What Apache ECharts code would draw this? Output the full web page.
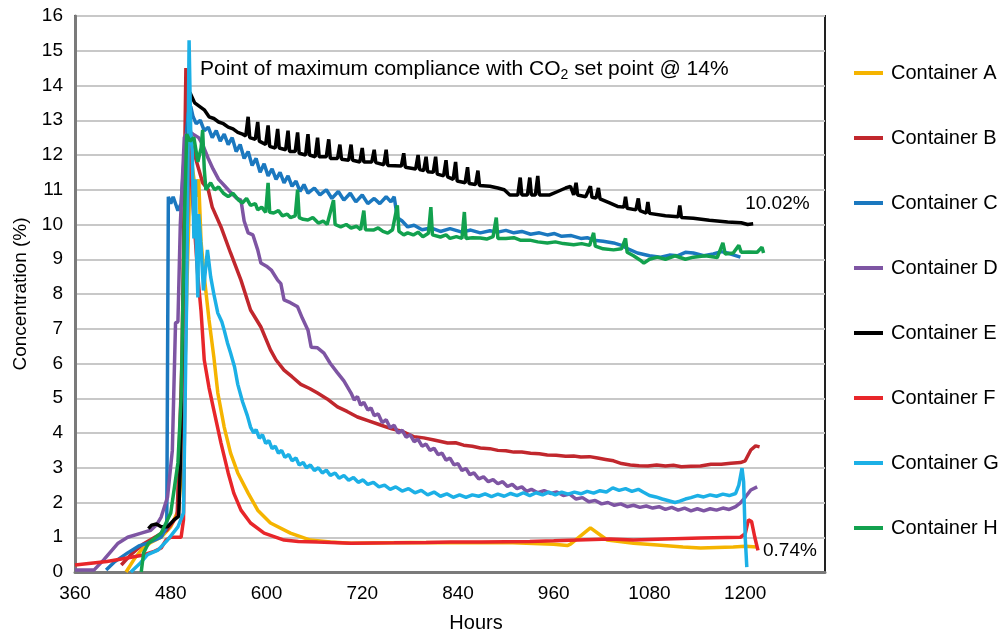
<!DOCTYPE html>
<html>
<head>
<meta charset="utf-8">
<script src="https://cdn.jsdelivr.net/npm/echarts@6.0.0/dist/echarts.min.js"></script>
<style>
  html, body { margin: 0; padding: 0; background: #fff; }
  #chart { width: 1005px; height: 634px; }
</style>
</head>
<body>
<div id="chart"></div>
<script>
// tick labels
var xTicks = [360, 480, 600, 720, 840, 960, 1080, 1200];
var yTicks = [0, 1, 2, 3, 4, 5, 6, 7, 8, 9, 10, 11, 12, 13, 14, 15, 16];
var names = ['Container A', 'Container B', 'Container C', 'Container D',
             'Container E', 'Container F', 'Container G', 'Container H'];
var colors = ['#F5B400', '#C1272D', '#1B78BF', '#7E55A3', '#000000', '#E8262A', '#1CB0E6', '#12A14E'];

// [hours, CO2 %]
var contA = [[424,0],[435,0.4],[443,0.63],[455,0.85],[468,1.0],[480,1.3],[490,1.8],[496,4],[500,8],[505,12.0],[508,11.5],[512,10.8],[515,11.3],[518,9.5],[522,8.5],[528,7.25],[534,6.19],[539,5.15],[547,4.17],[555,3.42],[564,2.85],[577,2.27],[589,1.78],[605,1.41],[630,1.12],[655,0.92],[680,0.86],[706,0.83],[780,0.85],[840,0.84],[900,0.85],[960,0.8],[977,0.76],[981,0.8],[1006,1.27],[1027,0.92],[1060,0.83],[1090,0.78],[1122,0.72],[1144,0.69],[1185,0.72],[1200,0.74],[1215,0.72]];

var contB = [[418,0.2],[430,0.5],[445,0.8],[460,1.0],[475,1.2],[488,1.6],[494,6],[499,14.5],[502,12.5],[506,12.3],[510,12.0],[515,11.6],[520,11.2],[527,11.0],[532,10.5],[543,9.93],[555,9.18],[568,8.4],[580,7.54],[593,7.05],[605,6.39],[612,6.1],[622,5.81],[632,5.62],[643,5.4],[654,5.28],[664,5.15],[676,4.98],[689,4.75],[701,4.62],[714,4.46],[728,4.35],[743,4.23],[757,4.12],[770,4.05],[785,3.89],[797,3.86],[810,3.8],[827,3.71],[837,3.72],[847,3.65],[858,3.62],[868,3.57],[880,3.55],[890,3.5],[900,3.49],[910,3.45],[920,3.45],[931,3.42],[942,3.40],[952,3.37],[963,3.36],[975,3.33],[985,3.34],[994,3.31],[1005,3.32],[1015,3.28],[1025,3.24],[1035,3.2],[1045,3.12],[1056,3.08],[1067,3.06],[1078,3.05],[1089,3.08],[1100,3.05],[1110,3.07],[1120,3.03],[1132,3.04],[1144,3.05],[1157,3.1],[1170,3.1],[1182,3.13],[1194,3.15],[1200,3.2],[1207,3.51],[1213,3.63],[1218,3.6]];

var contC = [[399,0.06],[410,0.3],[426,0.55],[440,0.75],[451,0.83],[468,1.0],[475,1.3],[477,10.8],[480,10.6],[483,10.8],[489,10.4],[493,10.6],[497,12],[502,13.2],[505,13.4],[508,13.1],[512,12.9],[517,13.0],[522,12.7],[527,12.8],[532,12.5],[537,12.7],[542,12.4],[547,12.6],[552,12.3],[557,12.5],[562,12.1],[567,12.3],[572,11.9],[577,12.1],[582,11.7],[587,11.9],[592,11.5],[597,11.75],[602,11.4],[607,11.6],[612,11.3],[617,11.5],[622,11.2],[627,11.4],[632,11.1],[637,11.25],[642,10.95],[647,11.15],[652,10.9],[660,11.05],[667,10.85],[675,11.0],[682,10.75],[690,10.95],[697,10.7],[705,10.9],[712,10.65],[720,10.85],[727,10.6],[735,10.75],[742,10.6],[750,10.8],[756,10.65],[760,10.8],[764,10.2],[770,10.1],[777,9.93],[785,9.98],[795,9.85],[806,9.9],[818,9.8],[830,9.88],[845,9.78],[856,9.84],[868,9.76],[880,9.82],[890,9.78],[900,9.83],[910,9.76],[920,9.8],[931,9.72],[942,9.76],[952,9.7],[961,9.74],[970,9.66],[982,9.68],[994,9.6],[1002,9.62],[1010,9.55],[1022,9.52],[1035,9.47],[1045,9.4],[1053,9.3],[1065,9.18],[1080,9.1],[1094,9.06],[1105,9.12],[1115,9.1],[1125,9.2],[1135,9.18],[1148,9.1],[1160,9.15],[1170,9.22],[1178,9.18],[1186,9.12],[1194,9.06]];

var contD = [[360,0.06],[384,0.06],[396,0.35],[414,0.83],[426,1.0],[443,1.12],[455,1.2],[462,1.35],[468,1.58],[476,2.16],[482,3.5],[486,7.17],[489,7.2],[492,10],[497,12.5],[502,12.7],[508,12.6],[515,12.5],[520,12.3],[527,11.9],[533,11.6],[540,11.3],[548,11.1],[556,10.9],[563,10.75],[568,10.7],[572,10.1],[577,9.76],[583,9.7],[589,9.27],[593,8.89],[600,8.8],[606,8.69],[614,8.4],[618,8.3],[622,7.83],[630,7.75],[639,7.63],[645,7.3],[652,6.96],[656,6.47],[664,6.45],[672,6.3],[680,6.0],[689,5.73],[697,5.5],[706,5.15],[710,4.95],[714,5.05],[718,4.8],[722,4.88],[727,4.66],[731,4.72],[735,4.5],[740,4.55],[745,4.3],[750,4.38],[755,4.15],[760,4.22],[765,4.0],[770,4.08],[775,3.88],[780,3.95],[785,3.75],[790,3.82],[795,3.62],[800,3.68],[805,3.5],[810,3.56],[815,3.38],[820,3.42],[825,3.22],[830,3.28],[835,3.08],[840,3.12],[845,2.92],[850,2.98],[855,2.8],[860,2.85],[866,2.68],[872,2.74],[878,2.6],[884,2.66],[890,2.54],[896,2.6],[902,2.46],[908,2.52],[914,2.4],[920,2.45],[926,2.32],[932,2.38],[940,2.28],[948,2.34],[956,2.26],[964,2.3],[972,2.2],[980,2.24],[988,2.1],[996,2.14],[1004,2.02],[1012,2.06],[1020,1.96],[1028,2.0],[1036,1.92],[1044,1.96],[1052,1.88],[1060,1.92],[1068,1.86],[1076,1.9],[1084,1.84],[1092,1.88],[1100,1.8],[1108,1.86],[1116,1.78],[1124,1.84],[1132,1.76],[1140,1.82],[1148,1.76],[1156,1.82],[1164,1.78],[1172,1.84],[1180,1.8],[1188,1.88],[1194,1.99],[1200,2.15],[1207,2.36],[1215,2.45]];

var contE = [[452,1.25],[456,1.35],[462,1.38],[468,1.3],[476,1.3],[484,1.5],[490,1.6],[494,4.5],[499,11],[504,13.8],[510,13.5],[516,13.4],[522,13.3],[528,13.1],[534,13.05],[540,12.95],[546,12.9],[552,12.8],[558,12.75],[564,12.65],[570,12.6],[574,12.55],[577,13.1],[579,12.5],[586,12.45],[589,12.95],[591,12.4],[599,12.3],[602,12.85],[604,12.25],[611,12.2],[614,12.75],[616,12.2],[624,12.15],[627,12.7],[629,12.1],[636,12.1],[639,12.65],[641,12.05],[649,12.0],[652,12.6],[654,12.0],[661,11.95],[664,12.5],[666,11.95],[675,11.95],[678,12.45],[680,11.9],[689,11.9],[692,12.3],[694,11.88],[703,11.85],[706,12.3],[708,11.85],[717,11.8],[720,12.2],[722,11.8],[732,11.8],[735,12.15],[737,11.78],[747,11.72],[750,12.15],[752,11.7],[769,11.68],[772,12.05],[774,11.65],[787,11.6],[790,12.0],[792,11.58],[797,11.55],[800,11.95],[802,11.52],[809,11.5],[812,11.95],[814,11.45],[822,11.4],[825,11.85],[827,11.37],[834,11.3],[837,11.8],[839,11.25],[849,11.2],[852,11.65],[854,11.18],[862,11.15],[865,11.55],[867,11.12],[880,11.1],[890,11.05],[898,11.0],[905,10.85],[915,10.85],[918,11.35],[920,10.85],[927,10.85],[930,11.35],[932,10.85],[937,10.85],[940,11.4],[942,10.85],[955,10.85],[965,10.95],[975,11.05],[981,11.1],[985,10.85],[988,11.2],[990,10.85],[1000,10.8],[1006,11.1],[1008,10.78],[1013,10.76],[1016,11.05],[1018,10.74],[1030,10.62],[1040,10.52],[1048,10.5],[1050,10.8],[1052,10.47],[1063,10.42],[1066,10.75],[1068,10.4],[1076,10.33],[1078,10.65],[1080,10.32],[1100,10.25],[1116,10.22],[1118,10.55],[1120,10.2],[1135,10.18],[1155,10.12],[1178,10.07],[1195,10.05],[1203,10.0],[1210,10.02]];

var contF = [[360,0.2],[380,0.25],[400,0.3],[420,0.38],[446,0.49],[460,0.6],[468,0.69],[474,0.92],[480,1.0],[493,1.0],[496,1.5],[499,8],[503,12.4],[508,10.5],[514,8.5],[518,7.5],[522,6.1],[528,5.3],[534,4.66],[543,3.71],[552,2.85],[559,2.27],[568,1.78],[580,1.41],[597,1.12],[622,0.92],[640,0.88],[664,0.86],[706,0.83],[760,0.84],[800,0.85],[831,0.86],[870,0.86],[900,0.87],[930,0.88],[960,0.9],[1000,0.93],[1030,0.95],[1060,0.92],[1100,0.95],[1144,0.98],[1194,1.0],[1200,1.1],[1204,1.5],[1208,1.45],[1212,1.0],[1216,0.62]];

var contG = [[430,0],[442,0.26],[451,0.5],[464,0.63],[476,0.92],[489,1.3],[496,1.7],[500,8],[503,15.3],[505,12.7],[507,12.1],[509,9.6],[511,11.3],[512,9.5],[514,7.9],[515,10.3],[518,9.35],[521,8.1],[526,9.27],[530,8.5],[534,8.0],[539,7.45],[544,7.2],[547,6.96],[551,6.6],[555,6.3],[560,5.9],[564,5.4],[570,4.9],[576,4.5],[580,4.17],[584,4.0],[587,4.1],[591,3.85],[595,3.95],[599,3.7],[603,3.78],[607,3.55],[611,3.62],[615,3.42],[619,3.5],[623,3.3],[628,3.38],[632,3.2],[637,3.28],[641,3.08],[646,3.15],[650,3.0],[655,3.08],[660,2.92],[665,3.0],[670,2.85],[675,2.93],[680,2.78],[686,2.85],[691,2.7],[697,2.78],[703,2.64],[709,2.72],[715,2.58],[721,2.65],[727,2.52],[734,2.58],[741,2.45],[748,2.5],[755,2.38],[762,2.45],[770,2.33],[778,2.4],[786,2.28],[794,2.35],[802,2.22],[810,2.3],[818,2.18],[826,2.25],[834,2.15],[842,2.22],[850,2.15],[858,2.22],[866,2.18],[874,2.25],[882,2.17],[890,2.24],[898,2.18],[906,2.26],[914,2.2],[922,2.28],[930,2.2],[938,2.28],[946,2.22],[954,2.3],[962,2.22],[970,2.3],[978,2.24],[986,2.3],[994,2.25],[1002,2.32],[1010,2.27],[1018,2.34],[1026,2.3],[1034,2.42],[1042,2.35],[1050,2.4],[1058,2.32],[1066,2.38],[1072,2.3],[1080,2.2],[1088,2.16],[1096,2.1],[1104,2.05],[1112,2.0],[1118,2.04],[1125,2.1],[1132,2.14],[1140,2.2],[1148,2.16],[1156,2.22],[1164,2.18],[1172,2.24],[1180,2.2],[1188,2.26],[1192,2.5],[1196,2.99],[1198,2.6],[1200,1.0],[1202,0.14]];

var contH = [[443,0],[446,0.55],[452,0.83],[468,1.12],[480,1.7],[489,3.14],[493,5.0],[497,10],[500,12.6],[504,12.4],[509,12.5],[514,11.8],[518,12.2],[520,12.72],[522,11.6],[524,11.0],[530,11.2],[535,11.0],[540,11.08],[546,10.9],[552,10.8],[558,10.9],[565,10.7],[570,10.62],[575,10.75],[580,10.55],[586,10.6],[589,10.42],[594,10.5],[599,10.35],[602,11.2],[604,10.35],[609,10.33],[615,10.4],[620,10.25],[626,10.3],[630,10.2],[636,10.25],[639,11.0],[641,10.2],[646,10.15],[652,10.13],[658,10.2],[665,10.04],[671,10.1],[676,10.0],[684,10.7],[686,10.0],[693,9.93],[700,10.0],[706,9.9],[713,9.95],[718,9.85],[722,10.4],[724,9.85],[734,9.84],[740,9.9],[746,9.8],[752,9.75],[758,9.85],[764,10.55],[766,9.8],[772,9.7],[777,9.76],[784,9.7],[790,9.78],[796,9.65],[803,9.75],[806,10.5],[808,9.7],[818,9.64],[825,9.7],[830,9.6],[838,9.65],[845,9.6],[848,10.36],[850,9.6],[858,9.62],[868,9.61],[876,9.58],[884,9.65],[888,10.2],[890,9.6],[900,9.6],[910,9.62],[918,9.55],[930,9.55],[940,9.5],[952,9.47],[962,9.5],[972,9.45],[985,9.42],[995,9.45],[1005,9.4],[1010,9.76],[1012,9.38],[1022,9.3],[1035,9.27],[1045,9.3],[1050,9.6],[1052,9.2],[1060,9.1],[1068,8.98],[1073,8.89],[1080,9.0],[1090,9.06],[1100,9.0],[1112,9.1],[1125,9.0],[1135,9.06],[1150,9.1],[1165,9.05],[1172,9.47],[1175,9.15],[1185,9.18],[1192,9.4],[1195,9.2],[1205,9.21],[1215,9.2],[1221,9.35],[1223,9.18]];

var allData = [contA, contB, contC, contD, contE, contF, contG, contH];
var endLabels = { 'Container E': '10.02%', 'Container F': '0.74%' };

var FONT = '"Liberation Sans", Arial, Helvetica, sans-serif';

var series = [];
for (var i = 0; i < names.length; i++) {
	var s = {
		name: names[i],
		type: 'line',
		data: allData[i],
		showSymbol: false,
		symbol: 'none',
		lineStyle: { color: colors[i], width: 3.5 },
		itemStyle: { color: colors[i] },
		z: 2 + i
	};
	if (endLabels[names[i]]) {
		s.endLabel = {
			show: true,
			formatter: endLabels[names[i]],
			color: '#000',
			fontSize: 19,
			fontFamily: FONT,
			distance: 5,
			offset: names[i] === 'Container E' ? [-13, -20] : [0, 0]
		};
	}
	series.push(s);
}

var option = {
	animation: false,
	backgroundColor: '#fff',
	grid: {
		left: 75, right: 180, top: 16, bottom: 62,
		outerBoundsMode: 'none',
		containLabel: false,
		show: true, borderColor: '#222', borderWidth: 2
	},
	legend: {
		data: names,
		orient: 'vertical',
		left: 849,
		top: 58,
		icon: 'rect',
		itemWidth: 29,
		itemHeight: 4,
		itemGap: 45,
		textStyle: { fontSize: 20, fontFamily: FONT, color: '#000', lineHeight: 20, padding: [0, 0, 0, 3] }
	},
	xAxis: {
		type: 'value',
		min: 360, max: 1300, interval: 120,
		name: 'Hours',
		nameLocation: 'middle',
		nameGap: 41,
		nameTextStyle: { fontSize: 20, fontFamily: FONT, color: '#000', padding: [0, 0, 0, 52] },
		axisLine: { show: true, lineStyle: { color: '#7a7a7a', width: 3 } },
		axisTick: { show: false },
		splitLine: { show: false },
		axisLabel: {
			fontSize: 19, fontFamily: FONT, color: '#000', margin: 12,
			showMaxLabel: false,
			formatter: function (v) { return xTicks.indexOf(v) >= 0 ? String(v) : ''; }
		}
	},
	yAxis: {
		type: 'value',
		min: 0, max: 16, interval: 1,
		name: 'Concentration (%)',
		nameLocation: 'middle',
		nameGap: 45,
		nameTextStyle: { fontSize: 19, fontFamily: FONT, color: '#000' },
		axisLine: { show: true, lineStyle: { color: '#7a7a7a', width: 3 } },
		axisTick: { show: false },
		splitLine: { show: true, lineStyle: { color: '#c8c8c8', width: 2 } },
		axisLabel: {
			fontSize: 19, fontFamily: FONT, color: '#000', margin: 12,
			formatter: function (v) { return yTicks.indexOf(v) >= 0 ? String(v) : ''; }
		}
	},
	graphic: [{
		type: 'text',
		left: 200,
		top: 57,
		z: 100,
		style: {
			text: '{n|Point of maximum compliance with CO}{s|2}{n| set point @ 14%}',
			rich: {
				n: { fontSize: 21, fontFamily: FONT, fill: '#000', lineHeight: 26 },
				s: { fontSize: 14, fontFamily: FONT, fill: '#000', lineHeight: 26, padding: [11, 0, 0, 0] }
			}
		}
	}],
	series: series
};

var chart = echarts.init(document.getElementById('chart'));
chart.setOption(option);
</script>
</body>
</html>
